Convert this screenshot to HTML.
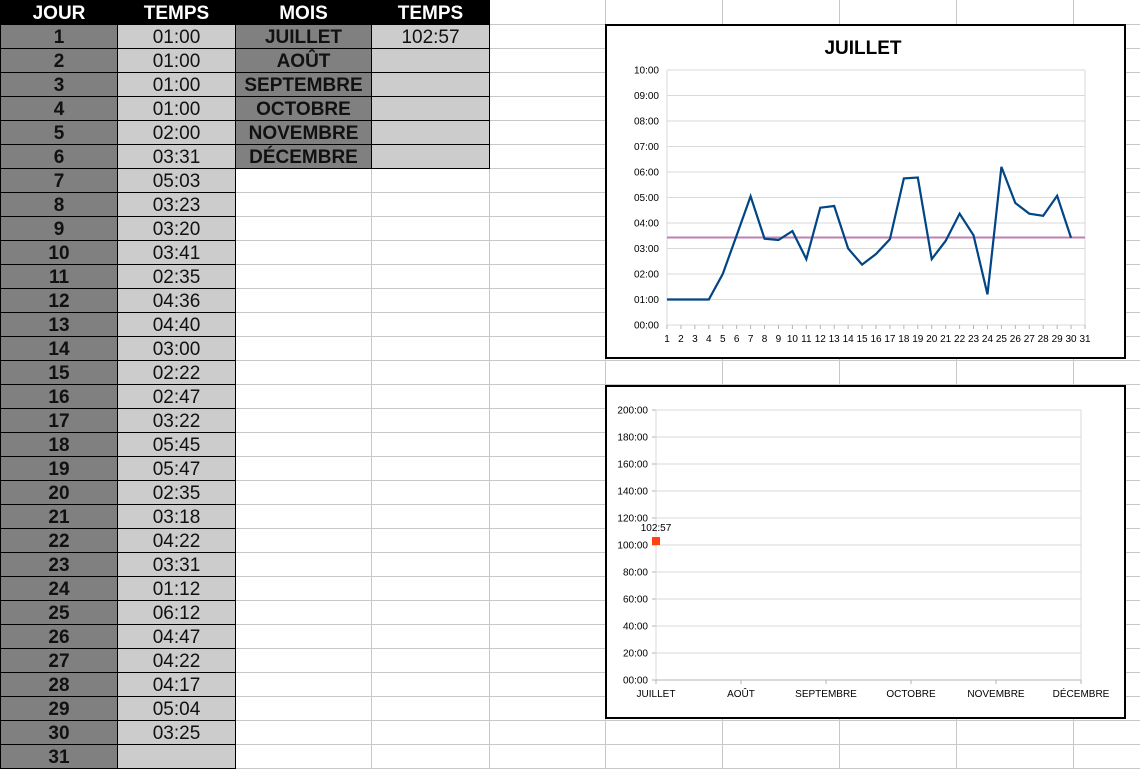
<!DOCTYPE html>
<html><head><meta charset="utf-8"><style>
body{margin:0;width:1140px;height:768px;overflow:hidden;background:#fff;font-family:"Liberation Sans",sans-serif;position:relative}
.c{position:absolute;box-sizing:border-box;text-align:center;font-size:19px;line-height:25px;height:24px}
.g{position:absolute;background:#c8c8c8}
.box{position:absolute;background:#fff;border:2px solid #000;box-sizing:border-box}
svg text{font-family:"Liberation Sans",sans-serif}
</style></head><body>
<div id="grid"></div>
<div id="tbl"></div>
<div class="box" style="left:605px;top:24px;width:521px;height:335px">
<svg id="c1" width="517" height="331" style="position:absolute;left:0;top:0"></svg></div>
<div class="box" style="left:605px;top:385px;width:521px;height:334px">
<svg id="c2" width="517" height="330" style="position:absolute;left:0;top:0"></svg></div>
<script>
const days=[1,2,3,4,5,6,7,8,9,10,11,12,13,14,15,16,17,18,19,20,21,22,23,24,25,26,27,28,29,30,31];
const dayLabels=["01:00","01:00","01:00","01:00","02:00","03:31","05:03","03:23","03:20","03:41","02:35","04:36","04:40","03:00","02:22","02:47","03:22","05:45","05:47","02:35","03:18","04:22","03:31","01:12","06:12","04:47","04:22","04:17","05:04","03:25",""];
const dayMinutes=[60,60,60,60,120,211,303,203,200,221,155,276,280,180,142,167,202,345,347,155,198,262,211,72,372,287,262,257,304,205];
const months=["JUILLET","AOÛT","SEPTEMBRE","OCTOBRE","NOVEMBRE","DÉCEMBRE"];
const monthLabels=["102:57","","","","",""];
const monthMinutes=[6177];
const yTicks1=["00:00","01:00","02:00","03:00","04:00","05:00","06:00","07:00","08:00","09:00","10:00"];
const yTicks2=["00:00","20:00","40:00","60:00","80:00","100:00","120:00","140:00","160:00","180:00","200:00"];
const NS="http://www.w3.org/2000/svg";
function mk(p,tag,at,txt){const e=document.createElementNS(NS,tag);for(const k in at)e.setAttribute(k,at[k]);if(txt!==undefined)e.textContent=txt;p.appendChild(e);return e;}
const grid=document.getElementById('grid');
const colX=[0,117,235,371,489,605,722,839,956,1073,1140];
for(const x of colX){const d=document.createElement('div');d.className='g';d.style.cssText=`left:${x}px;top:0;width:1px;height:768px`;

grid.appendChild(d);}
for(let r=1;r<=32;r++){const d=document.createElement('div');d.className='g';d.style.cssText=`left:0;top:${r*24}px;width:1140px;height:1px`;

grid.appendChild(d);}
const tbl=document.getElementById('tbl');
function cell(x,y,w,txt,bg,bold,color,name){const d=document.createElement('div');d.className='c';
d.style.cssText=`left:${x}px;top:${y}px;width:${w+1}px;height:25px;background:${bg};border:1px solid #000;font-weight:${bold?'bold':'normal'};color:${color}`;
d.textContent=txt;

tbl.appendChild(d);}
cell(0,0,117,"JOUR","#000",1,"#fff","header-jour");
cell(117,0,118,"TEMPS","#000",1,"#fff","header-temps");
cell(235,0,136,"MOIS","#000",1,"#fff","header-mois");
cell(371,0,118,"TEMPS","#000",1,"#fff","header-temps-mois");
days.forEach((d,i)=>{cell(0,24*(i+1),117,String(d),"#808080",1,"#111","day-cell");cell(117,24*(i+1),118,dayLabels[i],"#cccccc",0,"#111","time-cell");});
months.forEach((m,i)=>{cell(235,24*(i+1),136,m,"#808080",1,"#111","month-cell");cell(371,24*(i+1),118,monthLabels[i],"#cccccc",0,"#111","month-time-cell");});
const s1=document.getElementById('c1');const ox=605+2,oy=24+2;
const x1=d=>667-ox+(d-1)*(418/30), y1=m=>325-oy-(m/600)*255;
mk(s1,'text',{x:863-ox,y:54-oy,'font-size':19,'font-weight':'bold','text-anchor':'middle',},"JUILLET");
yTicks1.forEach((t,i)=>{const y=y1(i*60);mk(s1,'line',{x1:x1(1),x2:x1(31),y1:y,y2:y,stroke:'#d9d9d9',});
mk(s1,'text',{x:x1(1)-8,y:y+3.5,'font-size':10,'text-anchor':'end',},t);});
mk(s1,'line',{x1:x1(1),x2:x1(1),y1:y1(0),y2:y1(600),stroke:'#d9d9d9'});
mk(s1,'line',{x1:x1(31),x2:x1(31),y1:y1(0),y2:y1(600),stroke:'#d9d9d9'});
days.forEach(d=>{mk(s1,'line',{x1:x1(d),x2:x1(d),y1:y1(0),y2:y1(0)+4,stroke:'#b3b3b3'});
mk(s1,'text',{x:x1(d),y:y1(0)+17,'font-size':10,'text-anchor':'middle',},String(d));});
const avg=dayMinutes.reduce((a,b)=>a+b,0)/dayMinutes.length;
mk(s1,'line',{x1:x1(1),x2:x1(31),y1:y1(avg),y2:y1(avg),stroke:'#c080b0','stroke-width':2,});
mk(s1,'polyline',{points:dayMinutes.map((m,i)=>x1(i+1)+','+y1(m)).join(' '),fill:'none',stroke:'#004586','stroke-width':2.2,});
const s2=document.getElementById('c2');const oy2=385+2;
const x2=i=>656-ox+i*85, y2=m=>680-oy2-(m/12000)*270;
yTicks2.forEach((t,i)=>{const y=y2(i*1200);mk(s2,'line',{x1:x2(0),x2:x2(5),y1:y,y2:y,stroke:'#d9d9d9',});
mk(s2,'line',{x1:x2(0)-4,x2:x2(0),y1:y,y2:y,stroke:'#b3b3b3'});
mk(s2,'text',{x:x2(0)-8,y:y+3.5,'font-size':10,'text-anchor':'end',},t);});
mk(s2,'line',{x1:x2(0),x2:x2(0),y1:y2(0),y2:y2(12000),stroke:'#d9d9d9'});
mk(s2,'line',{x1:x2(5),x2:x2(5),y1:y2(0),y2:y2(12000),stroke:'#d9d9d9'});
mk(s2,'line',{x1:x2(0),x2:x2(5),y1:y2(0),y2:y2(0),stroke:'#b3b3b3'});
months.forEach((m,i)=>{mk(s2,'line',{x1:x2(i),x2:x2(i),y1:y2(0),y2:y2(0)+4,stroke:'#b3b3b3'});
mk(s2,'text',{x:x2(i),y:y2(0)+17,'font-size':10,'text-anchor':'middle',},m);});
monthMinutes.forEach((m,i)=>{mk(s2,'rect',{x:x2(i)-4,y:y2(m)-4,width:8,height:8,fill:'#ff420e',});
mk(s2,'text',{x:x2(i),y:y2(m)-10,'font-size':10,'text-anchor':'middle',},monthLabels[i]);});
</script>
</body></html>
